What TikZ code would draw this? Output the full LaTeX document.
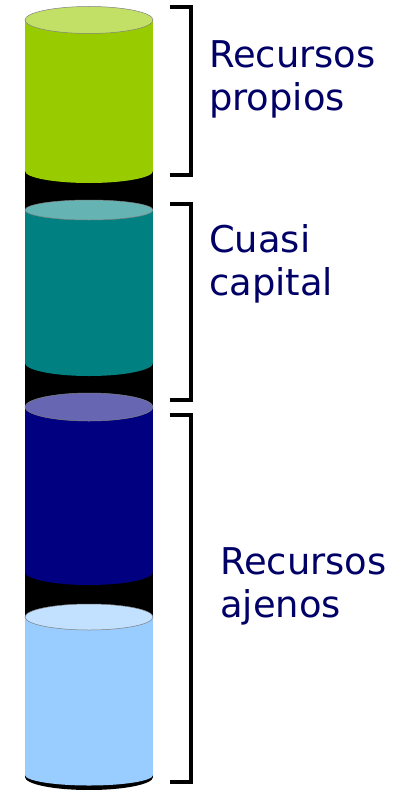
\documentclass[tikz,border=0pt]{standalone}
\usepackage{fontspec}
\setmainfont{DejaVu Sans}
\usetikzlibrary{positioning,calc}
\definecolor{propioscol}{RGB}{153,204,0}
\definecolor{cuasicol}{RGB}{0,128,128}
\definecolor{ajenoscol}{RGB}{0,0,128}
\definecolor{deudacol}{RGB}{153,204,255}
\definecolor{textblue}{RGB}{0,0,102}
\begin{document}
\begin{tikzpicture}
  [
  x=1bp, y=-1bp, line join=miter,
  bracketline/.style={line width=3.5bp, draw=black},
  textnode/.style={anchor=base west, align=left, inner sep=0pt, text=textblue,
    font=\fontsize{37}{43}\selectfont},
  ]
  \useasboundingbox (0,0) rectangle (403,790);

  % black column behind the segments
  \fill[black] (25,20) rectangle (153,777);
  \fill[black] (89,777) ellipse [x radius=64bp, y radius=13bp];

  \foreach \yt/\rt/\yb/\rb/\col in {20/13.5/171/12/propioscol, 210/10/363/13/cuasicol,
    407/14/572/13/ajenoscol, 617/13/775/10.5/deudacol}{
    \fill[\col] (25,\yt) rectangle (153,\yb);
    \fill[\col] (89,\yb) ellipse [x radius=64bp, y radius=\rb bp];
    \filldraw[fill=\col!60!white, draw=gray, line width=0.5bp] (89,\yt) ellipse [x radius=64bp, y radius=\rt bp];
  }

  % brackets
  \coordinate (b1top) at (170,7);
  \coordinate (b1bot) at (170,175);
  \coordinate (b2top) at (170,204);
  \coordinate (b2bot) at (170,400);
  \coordinate (b3top) at (170,415);
  \coordinate (b3bot) at (170,782);
  \draw[bracketline] (b1top) -- ++(21,0) |- (b1bot);
  \draw[bracketline] (b2top) -- ++(21,0) |- (b2bot);
  \draw[bracketline] (b3top) -- ++(21,0) |- (b3bot);

  % labels, placed at the baseline of their second line
  \node[textnode] (propios) at (209,110) {Recursos\\propios};
  \node[textnode] (cuasi) at (209,295) {Cuasi\\capital};
  \node[textnode] (ajenos) at (220,617) {Recursos\\ajenos};

\end{tikzpicture}
\end{document}
